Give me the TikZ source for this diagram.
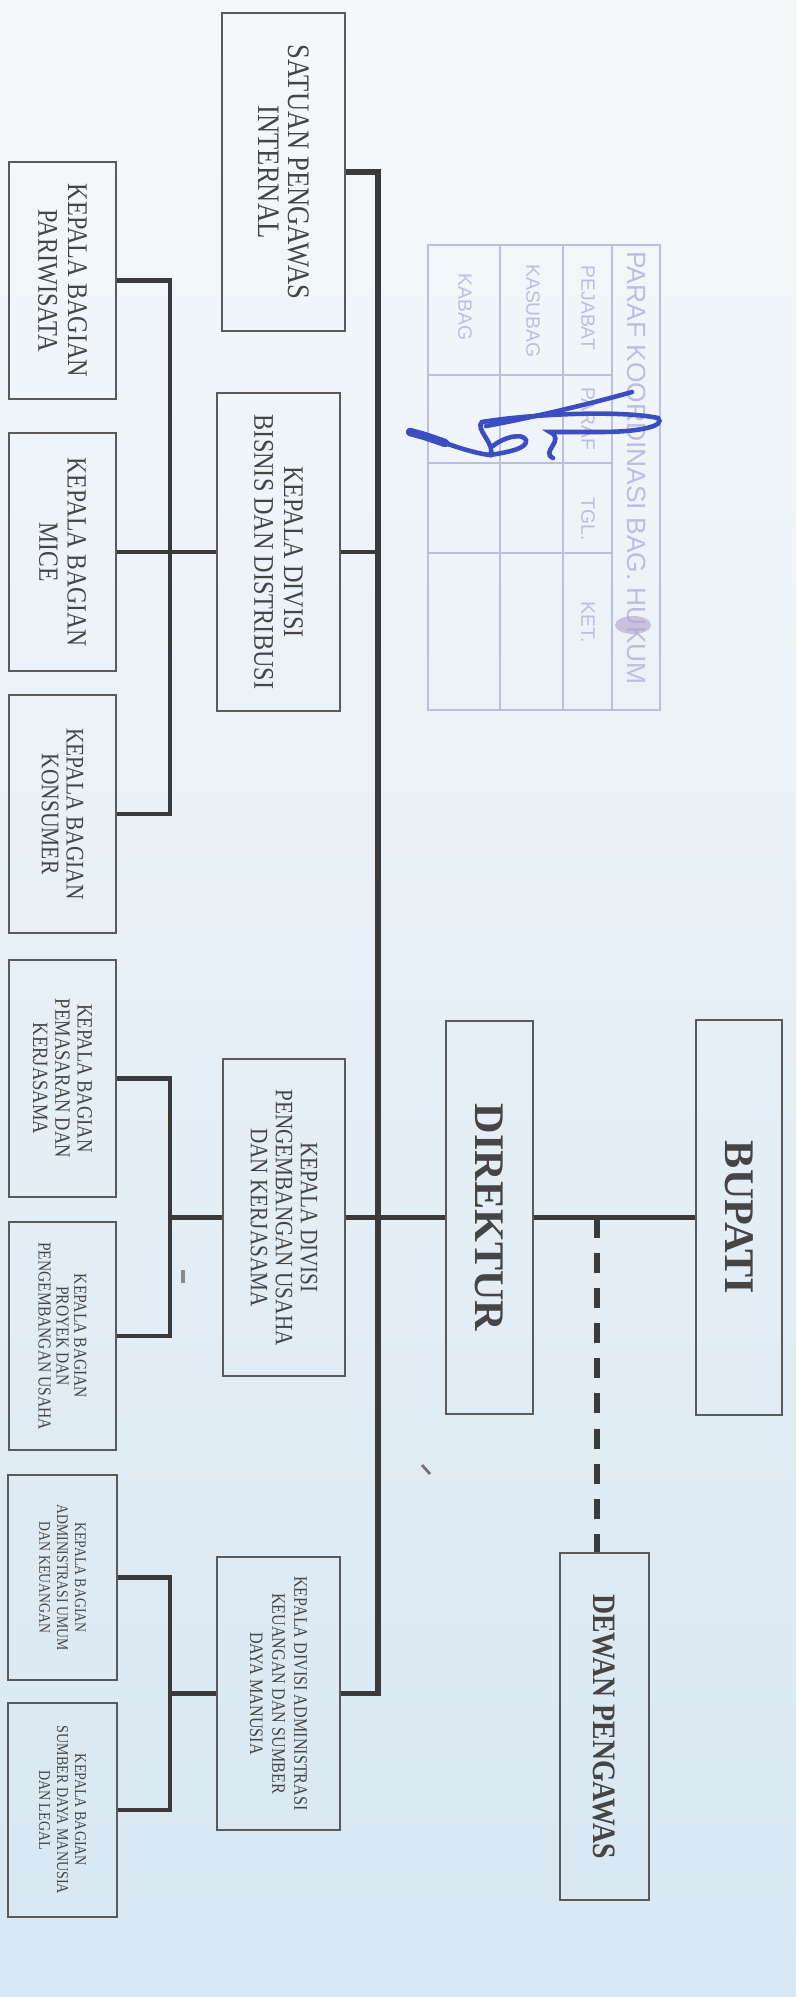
\documentclass[tikz,border=0pt]{standalone}
\usepackage{fontspec}
\setmainfont{Liberation Serif}
\newfontfamily\narrowfont[FakeStretch=0.85]{Liberation Serif}
\newfontfamily\stampfont{Liberation Sans}
\definecolor{bgtop}{HTML}{F5F8FA}
\definecolor{bgbot}{HTML}{D8E7F2}
\definecolor{boxgray}{HTML}{5A5A5A}
\definecolor{linegray}{HTML}{3A3A3A}
\definecolor{txtgray}{HTML}{454545}
\definecolor{stampink}{HTML}{BDBDDD}
\definecolor{signink}{HTML}{3A4EC2}

\begin{document}
\begin{tikzpicture}[x=0.01cm, y=-0.01cm,
    main/.style = {draw=boxgray, line width=0.6pt, rotate=-90, align=center, inner sep=0pt, text=txtgray},
    f/.style 2 args = {font=\narrowfont\fontsize{#1}{#2}\selectfont},
    fb/.style = {font=\bfseries\fontsize{#1}{#1}\selectfont},
    conn/.style = {draw=linegray, line width=1.2pt},
    trunkline/.style = {draw=linegray, line width=1.6pt},
    dashconn/.style = {draw=linegray, line width=1.5pt, dash pattern=on 5.7pt off 4.3pt},
    stampline/.style = {draw=stampink, line width=0.6pt},
    stamptext/.style = {rotate=-90, inner sep=0pt, text=stampink, font=\stampfont\fontsize{#1}{#1}\selectfont},
    sign/.style = {draw=signink, line width=1.3pt, line cap=round}]
                \useasboundingbox (0,0) rectangle (796,1997);
                \shade[top color=bgtop, bottom color=bgbot] (0,0) rectangle (796,1997);

                \node[main, minimum width=3.94cm, minimum height=0.86cm, fb=12] (1) at (739,1217.5) {BUPATI};
                \node[main, minimum width=3.93cm, minimum height=0.87cm, fb=12] (2) at (489.5,1217.5) {DIREKTUR};
                \node[main, minimum width=3.47cm, minimum height=0.89cm, font=\narrowfont\bfseries\fontsize{9.3}{9.3}\selectfont] (3) at (604.5,1726.5) {DEWAN PENGAWAS};
                \node[main, minimum width=3.18cm, minimum height=1.23cm, f={8.9}{8.5}] (4) at (283.5,172) {SATUAN PENGAWAS\\INTERNAL};
                \node[main, minimum width=3.17cm, minimum height=1.23cm, f={8.1}{8.5}] (5) at (278.5,552) {KEPALA DIVISI\\BISNIS DAN DISTRIBUSI};
                \node[main, minimum width=3.17cm, minimum height=1.22cm, f={7.1}{7.1}] (6) at (284,1217.5) {KEPALA DIVISI\\PENGEMBANGAN USAHA\\DAN KERJASAMA};
                \node[main, minimum width=2.73cm, minimum height=1.23cm, f={5.4}{6.3}] (7) at (278.5,1693.5) {KEPALA DIVISI ADMINISTRASI\\KEUANGAN DAN SUMBER\\DAYA MANUSIA};
                \node[main, minimum width=2.37cm, minimum height=1.07cm, f={8.1}{8.5}] (8) at (62.5,280.5) {KEPALA BAGIAN\\PARIWISATA};
                \node[main, minimum width=2.38cm, minimum height=1.07cm, f={7.9}{8}] (9) at (62.5,552) {KEPALA BAGIAN\\MICE};
                \node[main, minimum width=2.38cm, minimum height=1.07cm, f={7.2}{7.1}] (10) at (62.5,814) {KEPALA BAGIAN\\KONSUMER};
                \node[main, minimum width=2.37cm, minimum height=1.07cm, f={6.2}{6.3}] (11) at (62.5,1078.5) {KEPALA BAGIAN\\PEMASARAN DAN\\KERJASAMA};
                \node[main, minimum width=2.28cm, minimum height=1.07cm, f={5.2}{5.1}] (12) at (62.5,1336) {KEPALA BAGIAN\\PROYEK DAN\\PENGEMBANGAN USAHA};
                \node[main, minimum width=2.05cm, minimum height=1.09cm, f={4.6}{5.1}] (13) at (62.5,1577.5) {KEPALA BAGIAN\\ADMINISTRASI UMUM\\DAN KEUANGAN};
                \node[main, minimum width=2.14cm, minimum height=1.09cm, f={4.7}{5.1}] (14) at (62.5,1810) {KEPALA BAGIAN\\SUMBER DAYA MANUSIA\\DAN LEGAL};

                \coordinate (t) at (378,0);
                \coordinate (b) at (170,0);
                \coordinate (d) at (597,1217.5);

                \draw[trunkline] (4.north) -| (t |- 7.north) -- (7.north);
                \draw[conn] (5.north) -- (5.north -| t);
                \draw[conn] (2.south) -- (6.north);
                \draw[conn] (1.south) -- (2.north);
                \draw[dashconn] (d) -- (d |- 3.west);
                \draw[conn] (8.north) -| (b |- 10.north) -- (10.north);
                \draw[conn] (9.north) -- (5.south);
                \draw[conn] (11.north) -| (b |- 12.north) -- (12.north);
                \draw[conn] (b |- 6.south) -- (6.south);
                \draw[conn] (13.north) -| (b |- 14.north) -- (14.north);
                \draw[conn] (b |- 7.south) -- (7.south);

                \draw[stampline] (428,245) rectangle (660,710);
                \foreach \sx in {500,563,612} \draw[stampline] (\sx,245) -- (\sx,710);
                \foreach \sy in {375,463,553} \draw[stampline] (428,\sy) -- (612,\sy);
                \node[stamptext=7.5] (s1) at (637,468) {PARAF KOORDINASI BAG. HUKUM};
                \node[stamptext=5.5] (s2) at (588,308) {PEJABAT};
                \node[stamptext=5.5] (s3) at (588,419) {PARAF};
                \node[stamptext=5.5] (s4) at (588,519) {TGL.};
                \node[stamptext=5.5] (s5) at (588,622) {KET.};
                \node[stamptext=5.5] (s6) at (533,311) {KASUBAG};
                \node[stamptext=5.5] (s7) at (465,307) {KABAG};
                \fill[stampink!85!violet, opacity=0.6] (633,625) ellipse (18 and 9);

                \draw[sign, line width=2.4pt] (410,432) .. controls (425,436) .. (445,443);
                \draw[sign] (445,443) .. controls (465,450) and (480,454) .. (490,455) .. controls (497,446) and (474,428) .. (482,422) .. controls (530,414) and (620,410) .. (658,418) .. controls (666,426) and (640,432) .. (600,432) -- (550,432) .. controls (566,440) and (540,452) .. (553,458);
                \draw[sign] (486,426) .. controls (530,418) and (590,404) .. (632,392);
                \draw[sign] (490,455) .. controls (510,452) and (528,448) .. (526,440) .. controls (522,432) and (502,438) .. (493,446);

                \draw[linegray!70, line width=0.8pt] (422,1465) -- (430,1474);
                \draw[linegray!60, line width=1pt] (183,1270) -- (183,1283);
            \end{tikzpicture}
\end{document}
